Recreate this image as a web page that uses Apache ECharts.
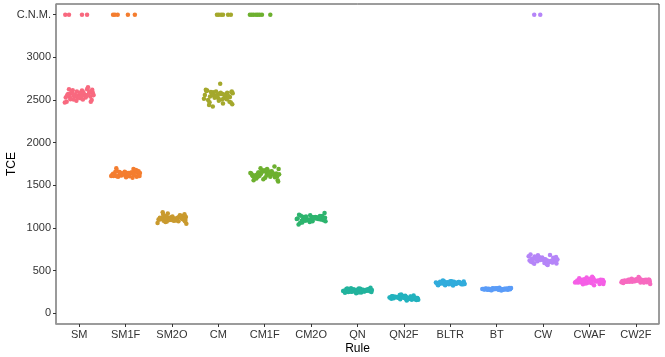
<!DOCTYPE html>
<html>
<head>
<meta charset="utf-8">
<script src="https://cdn.jsdelivr.net/npm/echarts@6/dist/echarts.min.js"></script>
<style>html,body{margin:0;padding:0;background:#fff}#c{width:665px;height:357px}</style>
</head>
<body>
<div id="c"></div>
<script>
const categories = ['SM','SM1F','SM2O','CM','CM1F','CM2O','QN','QN2F','BLTR','BT','CW','CWAF','CW2F'];
const colors = ['#F8697F','#F47D2F','#C99A2E','#A4A82C','#6DB02F','#2DB46E','#22B39D','#22B2BE','#31ACDC','#5A9CF8','#B585F8','#F55FE6','#F76AC0'];
const yTicks = [0,500,1000,1500,2000,2500,3000,3500];
const cnmValue = 3500;

// horizontal jitter offsets (in category widths)
const jit = [-0.29,0.12,-0.05,0.24,-0.18,0.03,0.30,-0.11,0.17,-0.24,0.08,-0.02,0.27,-0.14,0.21,-0.27,0.01,0.14,-0.08,0.29,-0.20,0.06,-0.31,0.19,-0.03,0.10,-0.16,0.25,-0.09,0.04,-0.22,0.15,0.31,-0.12,0.22,-0.26,0.00,0.09,-0.19,0.28,-0.06,0.18,-0.13,0.05];

const SM   = [2530,2560,2600,2540,2580,2520,2555,2545,2625,2570,2505,2550,2500,2615,2575,2480,2585,2530,2560,2590,2535,2610,2470,2650,2525,2565,2595,2480,2540,2575,2625,2545,2560,2505,2600,2555,2530,2590,2510,2620,2490,2560,2570,2545];
const SM1F = [1620,1650,1640,1600,1665,1630,1610,1645,1690,1625,1605,1660,1640,1615,1675,1635,1595,1650,1630,1620,1700,1645,1610,1655,1625,1640,1600,1670,1615,1635,1660,1590,1645,1625,1680,1610,1650,1630,1605,1665,1640,1620,1655,1635];
const SM2O = [1100,1120,1095,1140,1085,1110,1130,1075,1150,1105,1090,1125,1160,1070,1115,1100,1135,1080,1120,1095,1185,1105,1060,1145,1110,1090,1130,1100,1170,1085,1115,1125,1050,1140,1105,1120,1095,1110,1155,1080,1100,1130,1115,1090];
const CM   = [2560,2520,2600,2480,2540,2575,2450,2590,2530,2610,2505,2560,2470,2580,2545,2620,2490,2555,2525,2600,2440,2570,2515,2585,2555,2460,2595,2535,2550,2690,2500,2565,2580,2425,2545,2605,2520,2570,2475,2590,2540,2510,2560,2585];
const CM1F = [1640,1600,1670,1625,1580,1655,1690,1615,1645,1560,1630,1675,1605,1650,1720,1620,1590,1660,1635,1545,1610,1680,1645,1625,1570,1655,1600,1640,1700,1615,1585,1665,1630,1650,1595,1610,1675,1640,1620,1560,1655,1635,1605,1690];
const CM2O = [1110,1125,1095,1140,1100,1080,1120,1135,1105,1060,1115,1150,1090,1125,1100,1040,1130,1110,1095,1175,1085,1120,1105,1140,1070,1115,1130,1100,1090,1125,1145,1105,1080,1120,1110,1155,1095,1130,1065,1115,1100,1125,1085,1110];
const QN   = [265,275,255,280,260,290,250,270,262,285,245,272,258,295,266,240,278,255,282,268,250,288,262,275,235,270,258,285,265,248,292,260,272,255,280,266,245,275,262,300,258,270,252,268];
const QN2F = [185,175,195,165,190,205,170,185,160,200,180,192,155,188,210,172,183,198,165,180,195,150,186,175,205,168,190,182,215,170,178,195,160,188,176,200,183,165,192,178,220,172,185,190];
const BLTR = [355,345,365,340,360,375,350,330,362,348,370,355,340,380,352,335,365,358,345,372,350,325,360,368,342,355,385,348,362,338,370,352,345,365,358,330,375,350,362,345,358,368,340,355];
const BT   = [285,280,292,275,288,282,295,270,286,290,278,284,298,272,287,281,293,276,289,283,275,300,285,279,291,268,286,282,294,277,288,284,296,273,287,280,290,285,278,293,282,288,275,286];
const CW   = [620,600,645,610,665,590,630,680,605,640,575,655,615,635,595,690,625,610,650,585,640,620,670,600,635,565,645,615,660,625,595,685,630,610,650,605,640,620,580,660,625,615,645,635];
const CWAF = [370,385,355,395,365,380,345,400,375,360,415,370,390,340,380,365,405,375,350,390,370,430,360,385,375,330,395,365,380,355,410,375,370,390,345,385,365,400,375,360,420,380,370,355];
const CW2F = [380,370,395,365,385,400,375,390,360,385,410,375,395,370,380,355,400,385,370,395,375,425,365,390,380,360,395,375,405,385,370,390,345,380,395,375,385,400,370,390,380,365,395,385];

// jitter offsets of the "could not meet" (C.N.M.) points per category
const cnmSM   = [-0.30,-0.22,0.06,0.17];
const cnmSM1F = [-0.27,-0.23,-0.17,0.05,0.20];
const cnmCM   = [-0.03,0.01,0.06,0.10,0.21,0.27];
const cnmCM1F = [-0.32,-0.28,-0.24,-0.19,-0.15,-0.11,-0.06,0.12];
const cnmCW   = [-0.19,-0.06];

const valuesByCat = [SM,SM1F,SM2O,CM,CM1F,CM2O,QN,QN2F,BLTR,BT,CW,CWAF,CW2F];
const cnmByCat = [cnmSM,cnmSM1F,[],cnmCM,cnmCM1F,[],[],[],[],[],cnmCW,[],[]];

const series = categories.map((name, i) => {
  const data = valuesByCat[i].map((v, k) => [i + jit[k % jit.length], v]);
  cnmByCat[i].forEach(o => data.push([i + o, cnmValue]));
  return {
    name, type: 'scatter', data, symbolSize: 4.5,
    itemStyle: { color: colors[i], opacity: 1 },
    emphasis: { disabled: true }, animation: false
  };
});

const chart = echarts.init(document.getElementById('c'), null, { renderer: 'canvas' });
chart.setOption({
  animation: false,
  backgroundColor: '#fff',
  grid: { left: 56, right: 6, top: 4, bottom: 33, show: true, borderColor: '#3a3a3a', borderWidth: 1,
    backgroundColor: 'transparent', containLabel: false, outerBoundsMode: 'none' },
  xAxis: {
    type: 'value', min: -0.5, max: 12.5,
    name: 'Rule', nameLocation: 'middle', nameGap: 18.5, nameMoveOverlap: false,
    nameTextStyle: { fontFamily: 'Liberation Sans', fontSize: 12, color: '#000' },
    axisLine: { show: true, onZero: false, lineStyle: { color: '#9a9a9a', width: 1.5 } },
    axisTick: { show: true, length: 3, lineStyle: { color: '#333' }, customValues: categories.map((c, i) => i) },
    axisLabel: { fontFamily: 'Liberation Sans', fontSize: 11, color: '#333', margin: 5,
      customValues: categories.map((c, i) => i), formatter: v => categories[Math.round(v)] || '' },
    splitLine: { show: false }
  },
  yAxis: {
    type: 'value', min: -125, max: 3625,
    name: 'TCE', nameLocation: 'middle', nameGap: 38, nameMoveOverlap: false,
    nameTextStyle: { fontFamily: 'Liberation Sans', fontSize: 12, color: '#000' },
    axisLine: { show: true, onZero: false, lineStyle: { color: '#9a9a9a', width: 1.5 } },
    axisTick: { show: true, length: 3, lineStyle: { color: '#333' }, customValues: yTicks },
    axisLabel: { fontFamily: 'Liberation Sans', fontSize: 11, color: '#333', margin: 5,
      customValues: yTicks, formatter: v => v === cnmValue ? 'C.N.M.' : String(v) },
    splitLine: { show: false }
  },
  series
});
</script>
</body>
</html>
